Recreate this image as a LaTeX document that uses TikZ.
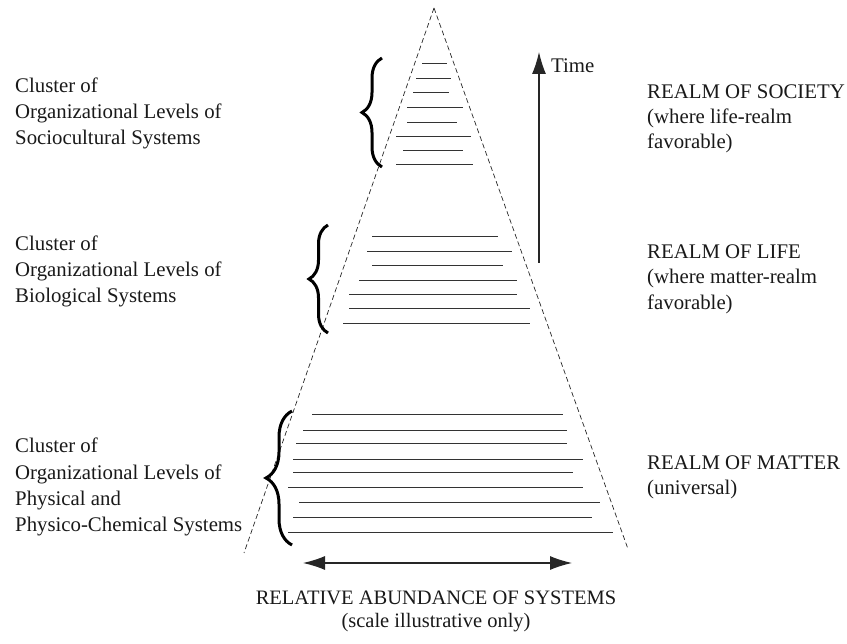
\documentclass[tikz,border=0pt]{standalone}
\usepackage{fontspec}
\setmainfont{Liberation Serif}
\usetikzlibrary{arrows.meta,decorations.pathreplacing}
\tikzset{
  edge/.style={draw=black!85, dashed, dash pattern=on 5pt off 3pt, line width=0.7pt},
  lvl/.style={draw=black!80, line width=0.9pt},
  bigbrace/.style={draw=black, line width=3pt, decorate, decoration={brace, amplitude=#1}},
  bigarrow/.style={draw=black!85, line width=1.1pt, -{Latex[length=22pt,width=14pt]}},
  twoarrow/.style={draw=black!85, line width=1.1pt, {Latex[length=22pt,width=14pt]}-{Latex[length=22pt,width=14pt]}},
  txt/.style={anchor=base west, inner sep=0pt, font=\fontsize{20.8}{26}\selectfont, text=black!90},
  ctxt/.style={anchor=base, inner sep=0pt, font=\fontsize{20.5}{26}\selectfont, text=black!90}
}
\begin{document}
\begin{tikzpicture}[x=1pt,y=-1pt]
\useasboundingbox (0,0) rectangle (847,644);
% triangle
\coordinate (apex) at (434,8);
\coordinate (bl) at (244,553);
\coordinate (br) at (628,549);
\draw[edge] (apex) -- (bl);
\draw[edge] (apex) -- (br);
% level lines
\foreach \y/\a/\b in {63/422/447, 78/416/451, 92/413/449, 107/407/463, 122/407/457, 136/396/471, 150/403/463, 164/396/473,
  236/372/498, 251/367/512, 265/372/503, 280/359/517, 294/349/517, 308/349/530, 323/343/530,
  414/312/563, 430/303/567, 443/296/567, 459/293/583, 472/293/573, 487/288/583, 502/299/600, 517/293/592, 532/288/613}
  \draw[lvl] (\a,\y) -- (\b,\y);
% braces
\draw[bigbrace=20pt] (382,167) -- (382,58);
\draw[bigbrace=19pt] (328,333) -- (328,225);
\draw[bigbrace=26pt] (292,545) -- (292,411);
% time arrow
\coordinate (t0) at (539,263);
\coordinate (t1) at (539,52);
\draw[bigarrow] (t0) -- (t1);
\node[txt] (time) at (551,73) {Time};
% abundance arrow
\coordinate (a0) at (303,563);
\coordinate (a1) at (572,563);
\draw[twoarrow] (a0) -- (a1);
% left texts
\node[txt] (l1a) at (15,93) {Cluster of};
\node[txt] (l1b) at (15,119) {Organizational Levels of};
\node[txt] (l1c) at (15,145) {Sociocultural Systems};
\node[txt] (l2a) at (15,251) {Cluster of};
\node[txt] (l2b) at (15,277) {Organizational Levels of};
\node[txt] (l2c) at (15,303) {Biological Systems};
\node[txt] (l3a) at (15,453) {Cluster of};
\node[txt] (l3b) at (15,479) {Organizational Levels of};
\node[txt] (l3c) at (15,505) {Physical and};
\node[txt] (l3d) at (15,531) {Physico-Chemical Systems};
% right texts
\node[txt] (r1a) at (647,99) {REALM OF SOCIETY};
\node[txt] (r1b) at (647,124) {(where life-realm};
\node[txt] (r1c) at (647,149) {favorable)};
\node[txt] (r2a) at (647,259) {REALM OF LIFE};
\node[txt] (r2b) at (647,284) {(where matter-realm};
\node[txt] (r2c) at (647,310) {favorable)};
\node[txt] (r3a) at (647,470) {REALM OF MATTER};
\node[txt] (r3b) at (647,494) {(universal)};
% bottom texts
\node[ctxt] (b1) at (436,604) {RELATIVE ABUNDANCE OF SYSTEMS};
\node[ctxt] (b2) at (436,627) {(scale illustrative only)};
\end{tikzpicture}
\end{document}
